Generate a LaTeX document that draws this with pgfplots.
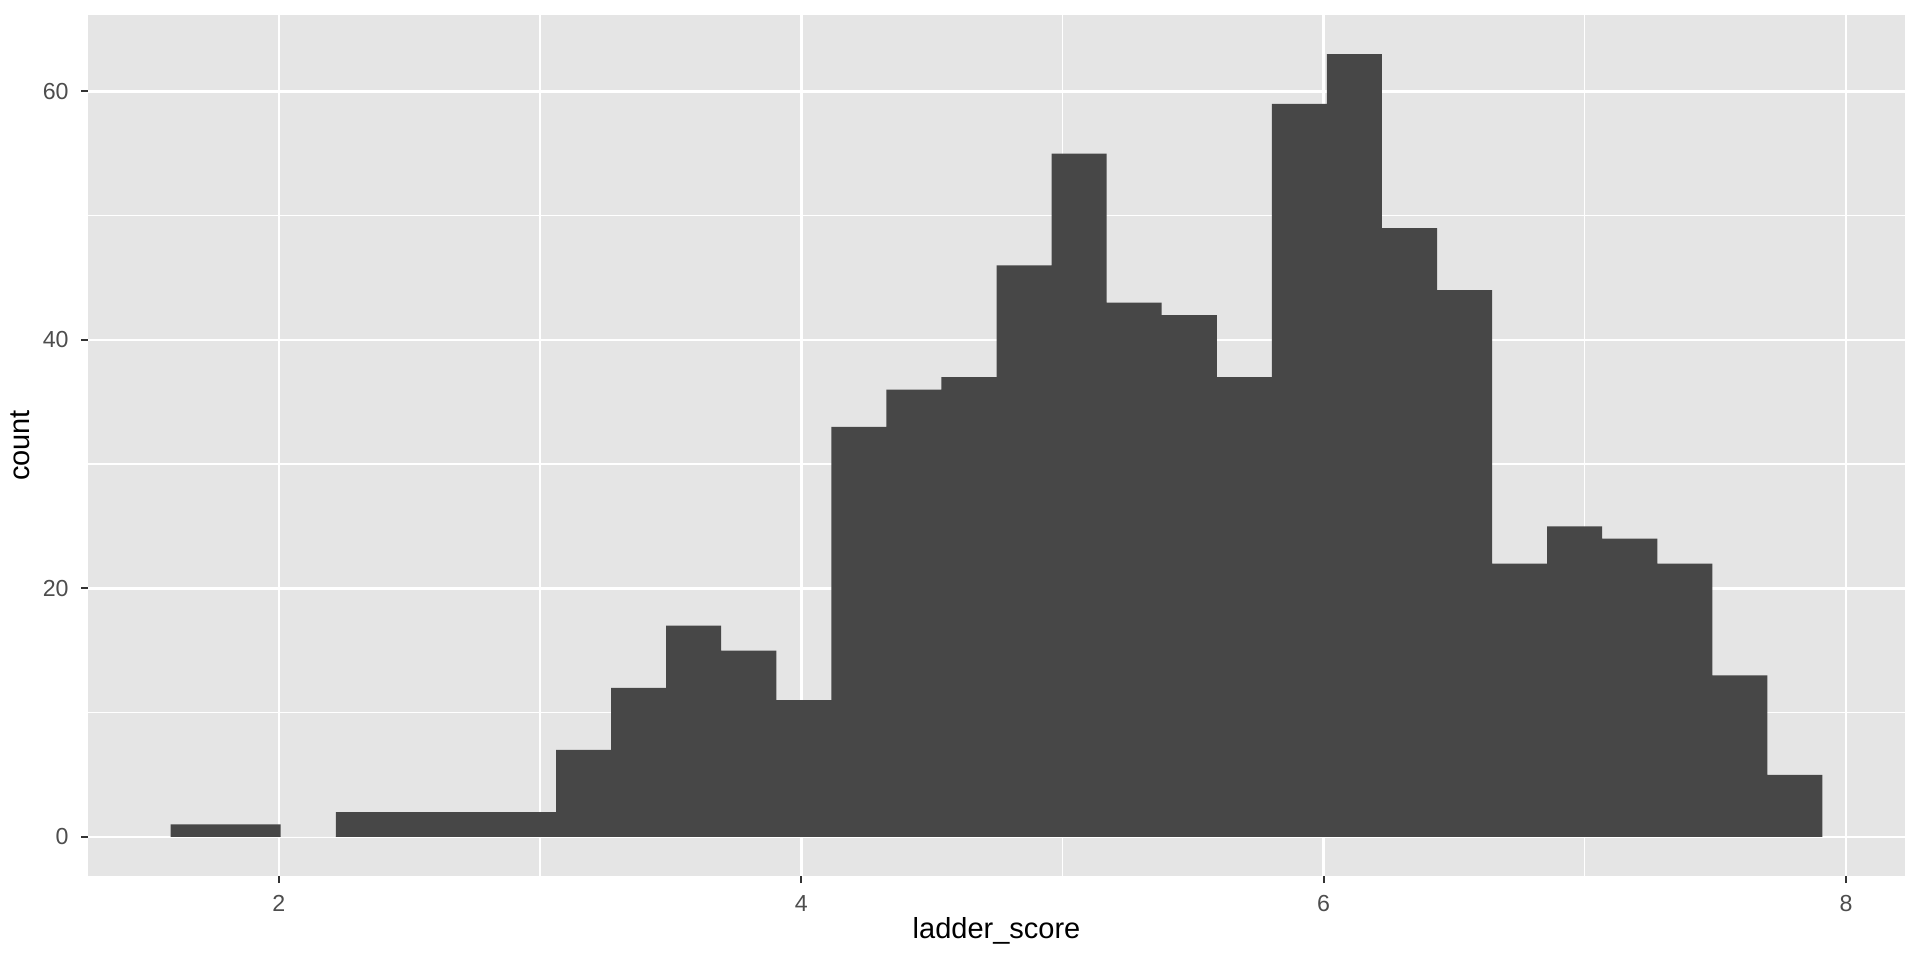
\documentclass[border=0pt]{standalone}
\usepackage{fontspec}
\setmainfont{Liberation Sans}
\usepackage{pgfplots}
\pgfplotsset{compat=1.18}

\definecolor{panelbg}{HTML}{E5E5E5}
\definecolor{barfill}{HTML}{474747}
\definecolor{ticktext}{HTML}{4D4D4D}
\definecolor{tickmark}{HTML}{333333}

\begin{document}
\begin{tikzpicture}
\useasboundingbox (-0.88,-0.84) rectangle (18.32,8.76);
\begin{axis}[
    at={(0,0)}, anchor=south west,
    scale only axis,
    width=18.17cm, height=8.61cm,
    xmin=1.2692, xmax=8.2262,
    ymin=-3.15, ymax=66.15,
    axis x line*=bottom, axis y line*=left,
    axis line style={draw=none},
    axis background/.style={fill=panelbg},
    xtick={2,4,6,8}, ytick={0,20,40,60},
    minor xtick={3,5,7}, minor ytick={10,30,50},
    grid=both,
    major grid style={white, line width=0.77pt},
    minor grid style={white, line width=0.38pt},
    tick align=outside,
    major tick length=0.07cm, minor tick length=0pt,
    tick style={tickmark, line width=0.6pt},
    ticklabel style={font=\fontsize{6.6}{7}\selectfont, text=ticktext},
    /pgf/number format/assume math mode=true,
    label style={font=\fontsize{8.25}{9}\selectfont},
    xlabel={ladder\_score}, ylabel={count},
    xlabel style={at={(axis description cs:0.5,-0.0639)}, anchor=center},
    ylabel style={at={(axis description cs:-0.0374,0.5)}, anchor=center},
]
\addplot[ybar interval, fill=barfill, draw=none] coordinates {
    (1.5854,1) (1.7962,1) (2.0070,0) (2.2179,2) (2.4287,2)
    (2.6395,2) (2.8503,2) (3.0611,7) (3.2720,12) (3.4828,17)
    (3.6936,15) (3.9044,11) (4.1152,33) (4.3261,36) (4.5369,37)
    (4.7477,46) (4.9585,55) (5.1693,43) (5.3802,42) (5.5910,37)
    (5.8018,59) (6.0126,63) (6.2234,49) (6.4343,44) (6.6451,22)
    (6.8559,25) (7.0667,24) (7.2775,22) (7.4884,13) (7.6992,5)
    (7.9100,5)
};
\end{axis}
\end{tikzpicture}
\end{document}
